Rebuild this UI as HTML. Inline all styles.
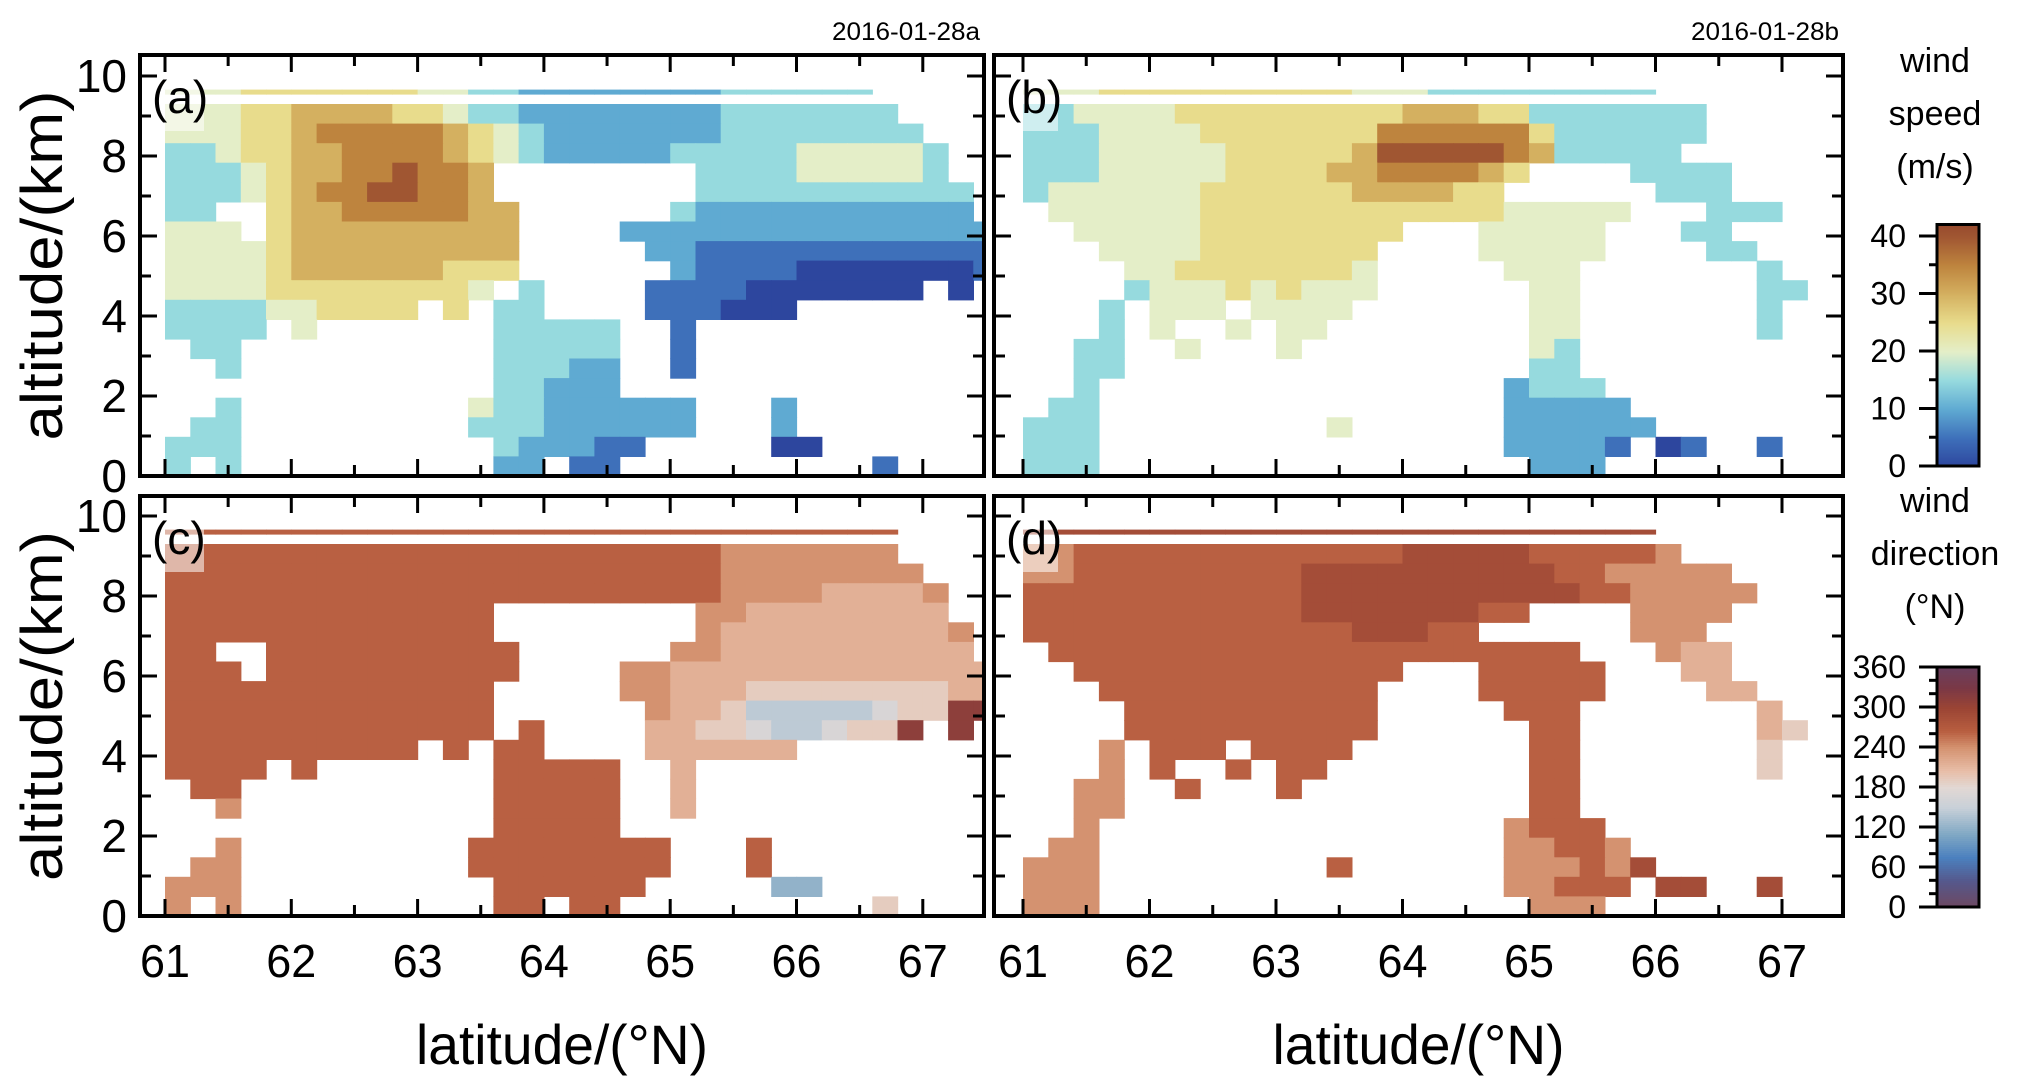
<!DOCTYPE html>
<html><head><meta charset="utf-8"><style>
html,body{margin:0;padding:0;background:#fff;}
svg{display:block;font-family:"Liberation Sans",Arial,sans-serif;}
</style></head><body>
<svg id="fig" width="2035" height="1084" viewBox="0 0 2035 1084" xmlns="http://www.w3.org/2000/svg">
<defs>
<clipPath id="clipA"><rect x="140" y="55" width="844" height="421"/></clipPath>
<clipPath id="clipB"><rect x="994" y="55" width="849" height="421"/></clipPath>
<clipPath id="clipC"><rect x="140" y="496" width="844" height="420"/></clipPath>
<clipPath id="clipD"><rect x="994" y="496" width="849" height="420"/></clipPath>
</defs>
<g id="layer"></g>
</svg>
<script>
// ---------- data ----------
const latStart = 61.0, latStep = 0.2;      // grid columns
const altTop = 9.3, altRows = 19;          // grid rows (top 9.3 km down to 0)
const stripAlt = 9.6;                      // upper thin strip altitude
const xTicks = [61,62,63,64,65,66,67];
const yTicks = [0,2,4,6,8,10];
const speedTicks = [0,10,20,30,40];
const dirTicks = [0,60,120,180,240,300,360];
// speed grids: digit*5 m/s
const gridA = [
"44455666655433222222223333333....",
"444556777776543222222233333333...",
"334556677776543222223333344444 3..".replace(' ',''),
"33345667787 76........3333444443..".replace(' ',''),
"33345677887 76........33333333333.".replace(' ',''),
"33..5667777766......322222222222.",
"444.5666666666....222222222222222",
"44445666666666.....22111111111111",
"44445666666555......2111100000001",
"4444555555554.3....11110000000.0.",
"333344555 5.5.33....111000........".replace(' ',''),
"3333.4.......33333..1............",
".33..........33333..1............",
"..3..........33322..1............",
".............33222...............",
"..3.........433222222...2.........".slice(0,33),
".33.........333222222...2.........".slice(0,33),
"333..........3222 11.....00.......".replace(' ',''),
"3.3..........22.11..........1...."
];
const stripA = "4445555555443322222222333333.....";
const gridB = [
"334444555555555666553333333......",
"33344445555555777777533333 3......".replace(' ',''),
"3334444455555688888763333 3......".replace(' ',''),
"33344444555566777765....3333.....",
"3444444555555666655......333.....",
".44444455555555555544444...333.....".slice(0,33),
"..444445555555 5...44444...33.....".replace(' ',''),
"...44445555555....44444....33....",
"....4455555554.....444.......3....",
"....3444545444......44.......33...",
"...3.444.4444.......44.......3...",
"...3.4..4.44........44.......3...",
"..33..4...4.........43...........",
"..33................33...........",
"..3................2333..........",
".33................22222.........",
"333.........4......222222.......",
"333................22221.01..1...",
"333.................222.........."
];
const stripB = "4445555555555444333333333........";
// direction grids: hex digit * 24 degrees
const gridC = [
"bbbbbbbbbbbbbbbbbbbbbbaaaaaaa....",
"bbbbbbbbbbbbbbbbbbbbbbaaaaaaaa...",
"bbbbbbbbbbbbbbbbbbbbbbaaaa9999a..",
"bbbbbbbbbbbbb........aa99999999..",
"bbbbbbbbbbbbb........a999999999a.",
"bb..bbbbbbbbbb......aa9999999999.",
"bbb.bbbbbbbbbb....aa9999999999999",
"bbbbbbbbbbbbb.....aa9998888888899",
"bbbbbbbbbbbbb......a99866666788dd",
"bbbbbbbbbbbbb.b....9988766788d.d.",
"bbbbbbbbbb.b.bb....999999........",
"bbbb.b.......bbbbb..9............",
".bb..........bbbbb..9............",
"..a..........bbbbb..9............",
".............bbbbb...............",
"..a.........bbbbbbbb...b.........",
".aa.........bbbbbbbb...b.........",
"aaa..........bbbbbb.....55.......",
"a.a..........bb.bb..........8...."
];
const stripC = "bbbbbbbbbbbbbbbbbbbbbbbbbbbbb....";
const gridD = [
"aabbbbbbbbbbbbbcccccbbbbba.......",
"aabbbbbbbbbccccccccccbbaaaaa......",
"bbbbbbbbbbbcccccccccccbbaaaaa......",
"bbbbbbbbbbbcccccccbb....aaaa.....",
"bbbbbbbbbbbbbcccbb......aaa.....",
".bbbbbbbbbbbbbbbbbbbbb...a99.....",
"..bbbbbbbbbbbbb...bbbbb...99.....",
"...bbbbbbbbbbb....bbbbb....99....",
"....bbbbbbbbbb.....bbb.......9....",
"....bbbbbbbbbb......bb.......98...",
"...a.bbb.bbbb.......bb.......8...",
"...a.b..b.bb........bb.......8...",
"..aa..b...b.........bb...........",
"..aa................bb...........",
"..a................abbb..........",
".aa................aabba.........",
"aaa.........b......aaabac.......",
"aaa................aabbb.cc..c...",
"aaa.................aaa.........."
];
const stripD = "ccccccccccccccccccccccccc........";

// ---------- colormaps ----------
const speedStops=[[0,[45,70,158]],[5,[62,112,186]],[10,[95,170,210]],[15,[150,218,222]],[20,[228,238,200]],[25,[232,220,140]],[30,[212,176,96]],[35,[190,132,62]],[40,[160,86,50]],[45,[140,60,40]]];
const dirStops=[[0,[110,72,96]],[40,[85,88,140]],[75,[75,128,190]],[110,[128,168,196]],[150,[200,208,216]],[180,[226,216,212]],[205,[232,190,168]],[240,[212,146,112]],[265,[184,94,64]],[300,[154,68,52]],[330,[122,56,70]],[360,[106,64,94]]];
function cmap(stops,v){
  if(v<=stops[0][0])return stops[0][1];
  for(let i=1;i<stops.length;i++){if(v<=stops[i][0]){const a=stops[i-1],b=stops[i];const t=(v-a[0])/(b[0]-a[0]);return a[1].map((c,k)=>Math.round(c+(b[1][k]-c)*t));}}
  return stops[stops.length-1][1];
}
const rgb=c=>`rgb(${c[0]},${c[1]},${c[2]})`;
const NS="http://www.w3.org/2000/svg";
const layer=document.getElementById('layer');
function mk(tag,attrs,parent){const e=document.createElementNS(NS,tag);for(const k in attrs)e.setAttribute(k,attrs[k]);(parent||layer).appendChild(e);return e;}

const panels=[
 {id:'a',x0:140,x1:984,y0:55,y1:476,lat0:165,latPx:126.3,grid:gridA,strip:stripA,type:'speed',clip:'clipA',title:'2016-01-28a'},
 {id:'b',x0:994,x1:1843,y0:55,y1:476,lat0:1023,latPx:126.5,grid:gridB,strip:stripB,type:'speed',clip:'clipB',title:'2016-01-28b'},
 {id:'c',x0:140,x1:984,y0:496,y1:916,lat0:165,latPx:126.3,grid:gridC,strip:stripC,type:'dir',clip:'clipC'},
 {id:'d',x0:994,x1:1843,y0:496,y1:916,lat0:1023,latPx:126.5,grid:gridD,strip:stripD,type:'dir',clip:'clipD'}
];
function val(p,ch){ if(p.type==='speed') return parseInt(ch,10)*5; return parseInt(ch,16)*24; }
function col(p,v){ return rgb(cmap(p.type==='speed'?speedStops:dirStops,v)); }

panels.forEach(p=>{
  const xs=lat=>p.lat0+(lat-61)*p.latPx;
  const ys=alt=>p.y1-alt*40;
  const g=mk('g',{'clip-path':`url(#${p.clip})`});
  
  
  const binH=altTop/altRows;
  p.grid.forEach((row,r)=>{
    for(let i=0;i<row.length;i++){
      const ch=row[i]; if(ch==='.'||ch===' ')continue;
      const v=val(p,ch); if(isNaN(v))continue;
      const la=latStart+i*latStep, aT=altTop-r*binH;
      const c=mk('rect',{x:xs(la).toFixed(1),y:ys(aT).toFixed(1),width:(xs(la+latStep)-xs(la)+0.6).toFixed(1),height:(binH*40+0.6).toFixed(1),fill:col(p,v)},g);
      
      
    }
  });
  for(let i=0;i<p.strip.length;i++){
    const ch=p.strip[i]; if(ch==='.')continue;
    const v=val(p,ch);
    const la=latStart+i*latStep;
    const s=mk('rect',{x:xs(la).toFixed(1),y:ys(stripAlt+0.06).toFixed(1),width:(latStep*p.latPx+0.6).toFixed(1),height:5,fill:col(p,v)},g);
    
    
  }
  const lb=mk('rect',{x:p.x0+6,y:p.y0+18,width:58,height:58,fill:'rgba(255,255,255,0.55)'});
  
  
  const lt=mk('text',{x:p.x0+12,y:p.y0+58,'font-size':46,fill:'#000'});
  lt.textContent='('+p.id+')';
  
  
  xTicks.forEach(t=>{
    [0,0.5].forEach(h=>{
      const x=xs(t+h); if(x>p.x1-2)return; const len=h?11:17;
      mk('line',{x1:x,x2:x,y1:p.y1,y2:p.y1-len,stroke:'#000','stroke-width':3});
      mk('line',{x1:x,x2:x,y1:p.y0,y2:p.y0+len,stroke:'#000','stroke-width':3});
    });
  });
  for(let a=0;a<=10;a++){
    const y=ys(a); const len=a%2?11:17;
    mk('line',{x1:p.x0,x2:p.x0+len,y1:y,y2:y,stroke:'#000','stroke-width':3});
    mk('line',{x1:p.x1,x2:p.x1-len,y1:y,y2:y,stroke:'#000','stroke-width':3});
  }
  const fr=mk('rect',{x:p.x0,y:p.y0,width:p.x1-p.x0,height:p.y1-p.y0,fill:'none',stroke:'#000','stroke-width':4});
  
  
  if(p.id==='a'||p.id==='c'){
    yTicks.forEach(t=>{
      const tx=mk('text',{x:127,y:ys(t)+16,'font-size':46,'text-anchor':'end'});
      tx.textContent=t;
      
      
    });
    const yt=mk('text',{x:0,y:0,'font-size':58,'text-anchor':'middle',textLength:350,lengthAdjust:'spacingAndGlyphs',transform:`translate(62,${(p.y0+p.y1)/2}) rotate(-90)`});
    yt.textContent='altitude/(km)';
    
    
  }
  if(p.id==='c'||p.id==='d'){
    xTicks.forEach(t=>{
      const tx=mk('text',{x:xs(t),y:977,'font-size':46,'text-anchor':'middle',textLength:50,lengthAdjust:'spacingAndGlyphs'});
      tx.textContent=t;
      
      
    });
    const xt=mk('text',{x:(p.x0+p.x1)/2,y:1064,'font-size':56,'text-anchor':'middle',textLength:292,lengthAdjust:'spacingAndGlyphs'});
    xt.textContent='latitude/(°N)';
    
    
  }
  if(p.title){
    const tt=mk('text',{x:p.x1-4,y:40,'font-size':25,'text-anchor':'end',textLength:148,lengthAdjust:'spacingAndGlyphs'});
    tt.textContent=p.title;
    
    
  }
});

// ---------- colorbars ----------
function colorbar(name,stops,vmin,vmax,vtop,yTop,yBot,ticks,minorStep,titles,titleY){
  const x0=1937,x1=1979;
  const ys=v=>yBot-(v-vmin)/(vmax-vmin)*(yBot-yTop);
  const g=mk('g',{});
  
  
  const yEnd=ys(vtop);
  for(let y=yEnd;y<yBot;y+=2){
    const v=vmin+(yBot-y)/(yBot-yTop)*(vmax-vmin);
    mk('rect',{x:x0,y:y,width:x1-x0,height:2.2,fill:rgb(cmap(stops,v))},g);
  }
  mk('rect',{x:x0,y:yEnd,width:x1-x0,height:yBot-yEnd,fill:'none',stroke:'#000','stroke-width':3},g);
  for(let v=vmin;v<=vmax+0.01;v+=minorStep){
    const major=ticks.includes(v);
    mk('line',{x1:x0-(major?18:8),x2:x0,y1:ys(v),y2:ys(v),stroke:'#000','stroke-width':3},g);
  }
  ticks.forEach(t=>{
    const tx=mk('text',{x:1906,y:ys(t)+11,'font-size':32,'text-anchor':'end'},g);
    tx.textContent=t;
    
    
  });
  titles.forEach((s,i)=>{
    const tx=mk('text',{x:1935,y:titleY[i],'font-size':34,'text-anchor':'middle'},g);
    tx.textContent=s;
    
    
  });
}
colorbar('speed-colorbar',speedStops,0,40,42,236,466,speedTicks,5,['wind','speed','(m/s)'],[72,125,178]);
colorbar('direction-colorbar',dirStops,0,360,360,667,907,dirTicks,20,['wind','direction','(°N)'],[512,565,618]);
</script>
</body></html>
